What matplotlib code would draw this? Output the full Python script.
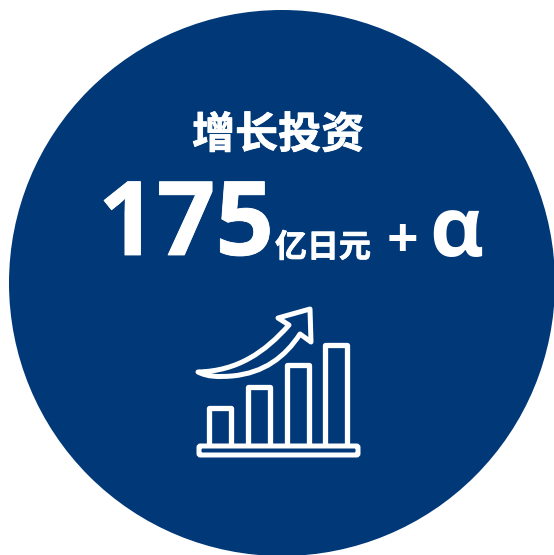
#!/usr/bin/env python

import matplotlib
matplotlib.use('Agg')
import matplotlib.pyplot as plt
import matplotlib.patheffects as pe
from matplotlib.patches import Circle, FancyBboxPatch, PathPatch
from matplotlib.path import Path

NAVY = '#003878'
WHITE = 'white'

title = '增长投资'
amount = '175'
unit = '亿日元'
plus = '+'
alpha = 'α'

# icon bars, left edge and top in pixels
bar_lefts = [209, 248, 287, 325]
bar_tops = [408, 387, 365, 345]
bar_width = 22
bar_bottom = 446


def draw_icon(ax):
    for left, top in zip(bar_lefts, bar_tops):
        verts = [(left, bar_bottom), (left, top), (left + bar_width, top), (left + bar_width, bar_bottom)]
        ax.add_patch(PathPatch(Path(verts), fc='none', ec=WHITE, lw=3.8, joinstyle='round'))
    ax.add_patch(FancyBboxPatch((199, 446), 159, 9, boxstyle='round,pad=0,rounding_size=1.5',
                                fc='none', ec=WHITE, lw=3.6))

    # outer edge of the arrow, then back along the lower curve to the head
    verts = [(310, 309), (278, 318), (289, 325),
             (265, 352), (238, 371), (198, 372),
             (208, 377), (218, 377), (232, 376),
             (264, 373), (285, 357), (300, 334),
             (311, 342), (310, 309)]
    codes = [Path.MOVETO, Path.LINETO, Path.LINETO,
             Path.CURVE4, Path.CURVE4, Path.CURVE4,
             Path.CURVE4, Path.CURVE4, Path.CURVE4,
             Path.CURVE4, Path.CURVE4, Path.CURVE4,
             Path.LINETO, Path.CLOSEPOLY]
    ax.add_patch(PathPatch(Path(verts, codes), fc='none', ec=WHITE, lw=3.6, joinstyle='round'))


def main():
    fig = plt.figure(figsize=(5.54, 5.55), dpi=100)
    ax = fig.add_axes([0, 0, 1, 1])
    ax.set_xlim(0, 554)
    ax.set_ylim(555, 0)
    ax.axis('off')

    ax.add_patch(Circle((282, 283), 273, fc=NAVY, ec='none'))

    cjk = ['Noto Sans CJK SC', 'DejaVu Sans']
    heavy = [pe.withStroke(linewidth=0.6, foreground=WHITE)]
    ax.text(278, 135, title, color=WHITE, fontsize=31, fontweight='bold', family=cjk,
            ha='center', va='center', path_effects=heavy)
    ax.text(186, 255, amount, color=WHITE, fontsize=74, fontweight='bold', family='Open Sans',
            ha='center', va='baseline', path_effects=heavy)
    ax.text(323, 257, unit, color=WHITE, fontsize=23, fontweight='bold', family=cjk,
            ha='center', va='baseline', path_effects=heavy)
    ax.text(402, 257, plus, color=WHITE, fontsize=40, fontweight='bold', family='Open Sans',
            ha='center', va='baseline')
    ax.text(456, 256, alpha, color=WHITE, fontsize=60, fontweight='bold', family='Open Sans',
            ha='center', va='baseline')

    draw_icon(ax)

    fig.savefig('out.png', dpi=100)


if __name__ == '__main__':
    main()
